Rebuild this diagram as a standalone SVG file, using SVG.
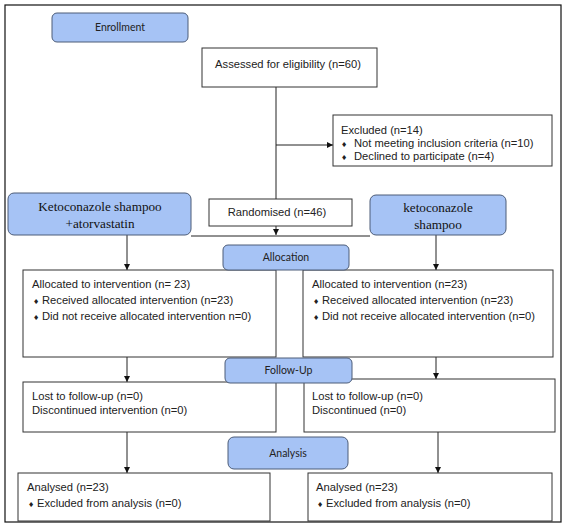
<svg xmlns="http://www.w3.org/2000/svg" width="568" height="529" viewBox="0 0 568 529">
<style>
.frame{fill:#fff;stroke:#111;stroke-width:1.2}
.box{fill:#fff;stroke:#333;stroke-width:1}
.stage{fill:#a6c3f5;stroke:#4c5c78;stroke-width:1}
.t{font-family:"Liberation Sans",Arial,sans-serif;font-size:11.2px;fill:#222}
.s{font-family:"Lato","Open Sans",sans-serif;font-size:10.5px;fill:#222;text-anchor:middle}
.r{font-family:"Liberation Serif","Times New Roman",serif;font-size:13.2px;fill:#111;text-anchor:middle}
.b{font-family:"DejaVu Sans",sans-serif;font-size:7px}
.ln{fill:none;stroke:#222;stroke-width:1}
</style>
<defs>
<marker id="ah" viewBox="0 0 10 10" refX="10" refY="5" markerWidth="6" markerHeight="6" orient="auto" markerUnits="userSpaceOnUse">
<path d="M0,0L10,5L0,10z" fill="#111"/>
</marker>
</defs>
<rect class="frame" x="5" y="5" width="556" height="517"/>
<g id="connectors">
<line class="ln" x1="276" y1="87" x2="276" y2="199"/>
<line class="ln" x1="276" y1="145" x2="333" y2="145" marker-end="url(#ah)"/>
<line class="ln" x1="276" y1="226" x2="276" y2="235" marker-end="url(#ah)"/>
<line class="ln" x1="191" y1="236" x2="370" y2="236"/>
<line class="ln" x1="127" y1="235" x2="127" y2="270" marker-end="url(#ah)"/>
<line class="ln" x1="436" y1="235" x2="436" y2="270" marker-end="url(#ah)"/>
<line class="ln" x1="127" y1="357" x2="127" y2="382" marker-end="url(#ah)"/>
<line class="ln" x1="436" y1="357" x2="436" y2="379" marker-end="url(#ah)"/>
<line class="ln" x1="127" y1="432" x2="127" y2="473" marker-end="url(#ah)"/>
<line class="ln" x1="438" y1="432" x2="438" y2="473" marker-end="url(#ah)"/>
</g>
<g id="enrollment"><rect class="stage" x="52" y="13" width="136" height="29" rx="5"/><text class="s" x="120" y="31">Enrollment</text></g>
<g id="assessed"><rect class="box" x="202" y="48" width="175" height="39"/><text class="t" x="288" y="68" text-anchor="middle">Assessed for eligibility (n=60)</text></g>
<g id="excluded"><rect class="box" x="333" y="115" width="219" height="51"/>
<text class="t" x="341" y="134">Excluded (n=14)</text>
<text class="t" y="147"><tspan class="b" x="341">♦</tspan><tspan x="354">Not meeting inclusion criteria (n=10)</tspan></text>
<text class="t" y="160"><tspan class="b" x="341">♦</tspan><tspan x="354">Declined to participate (n=4)</tspan></text></g>
<g id="arm-a"><rect class="stage" x="8" y="193" width="183" height="42" rx="6"/><text class="r" x="100" y="211">Ketoconazole shampoo</text><text class="r" x="100" y="228">+atorvastatin</text></g>
<g id="randomised"><rect class="box" x="209" y="199" width="143" height="27"/><text class="t" x="277" y="216" text-anchor="middle">Randomised (n=46)</text></g>
<g id="arm-b"><rect class="stage" x="370" y="195" width="136" height="40" rx="6"/><text class="r" x="438" y="212">ketoconazole</text><text class="r" x="438" y="229">shampoo</text></g>
<g id="alloc-left"><rect class="box" x="23" y="270" width="253" height="87"/>
<text class="t" x="32" y="288">Allocated to intervention (n= 23)</text>
<text class="t" y="304"><tspan class="b" x="33">♦</tspan><tspan x="42">Received allocated intervention (n=23)</tspan></text>
<text class="t" y="320"><tspan class="b" x="33">♦</tspan><tspan x="42">Did not receive allocated intervention n=0)</tspan></text></g>
<g id="alloc-right"><rect class="box" x="303" y="270" width="250" height="87"/>
<text class="t" x="312" y="288">Allocated to intervention (n=23)</text>
<text class="t" y="304"><tspan class="b" x="313">♦</tspan><tspan x="322">Received allocated intervention (n=23)</tspan></text>
<text class="t" y="320"><tspan class="b" x="313">♦</tspan><tspan x="322">Did not receive allocated intervention (n=0)</tspan></text></g>
<g id="allocation"><rect class="stage" x="223" y="245" width="126" height="25" rx="5"/><text class="s" x="286" y="261">Allocation</text></g>
<g id="fu-left"><rect class="box" x="23" y="382" width="253" height="50"/>
<text class="t" x="32" y="400">Lost to follow-up (n=0)</text>
<text class="t" x="32" y="414">Discontinued intervention (n=0)</text></g>
<g id="fu-right"><rect class="box" x="304" y="379" width="251" height="53"/>
<text class="t" x="312" y="400">Lost to follow-up (n=0)</text>
<text class="t" x="312" y="414">Discontinued (n=0)</text></g>
<g id="followup"><rect class="stage" x="225" y="358" width="127" height="25" rx="5"/><text class="s" x="288.5" y="374">Follow-Up</text></g>
<g id="analysis"><rect class="stage" x="228" y="437" width="120" height="32" rx="6"/><text class="s" x="288" y="457">Analysis</text></g>
<g id="an-left"><rect class="box" x="18" y="473" width="252" height="48"/>
<text class="t" x="27" y="491">Analysed (n=23)</text>
<text class="t" y="507"><tspan class="b" x="28">♦</tspan><tspan x="37">Excluded from analysis (n=0)</tspan></text></g>
<g id="an-right"><rect class="box" x="308" y="473" width="244" height="48"/>
<text class="t" x="316" y="491">Analysed (n=23)</text>
<text class="t" y="507"><tspan class="b" x="317">♦</tspan><tspan x="326">Excluded from analysis (n=0)</tspan></text></g>
</svg>
